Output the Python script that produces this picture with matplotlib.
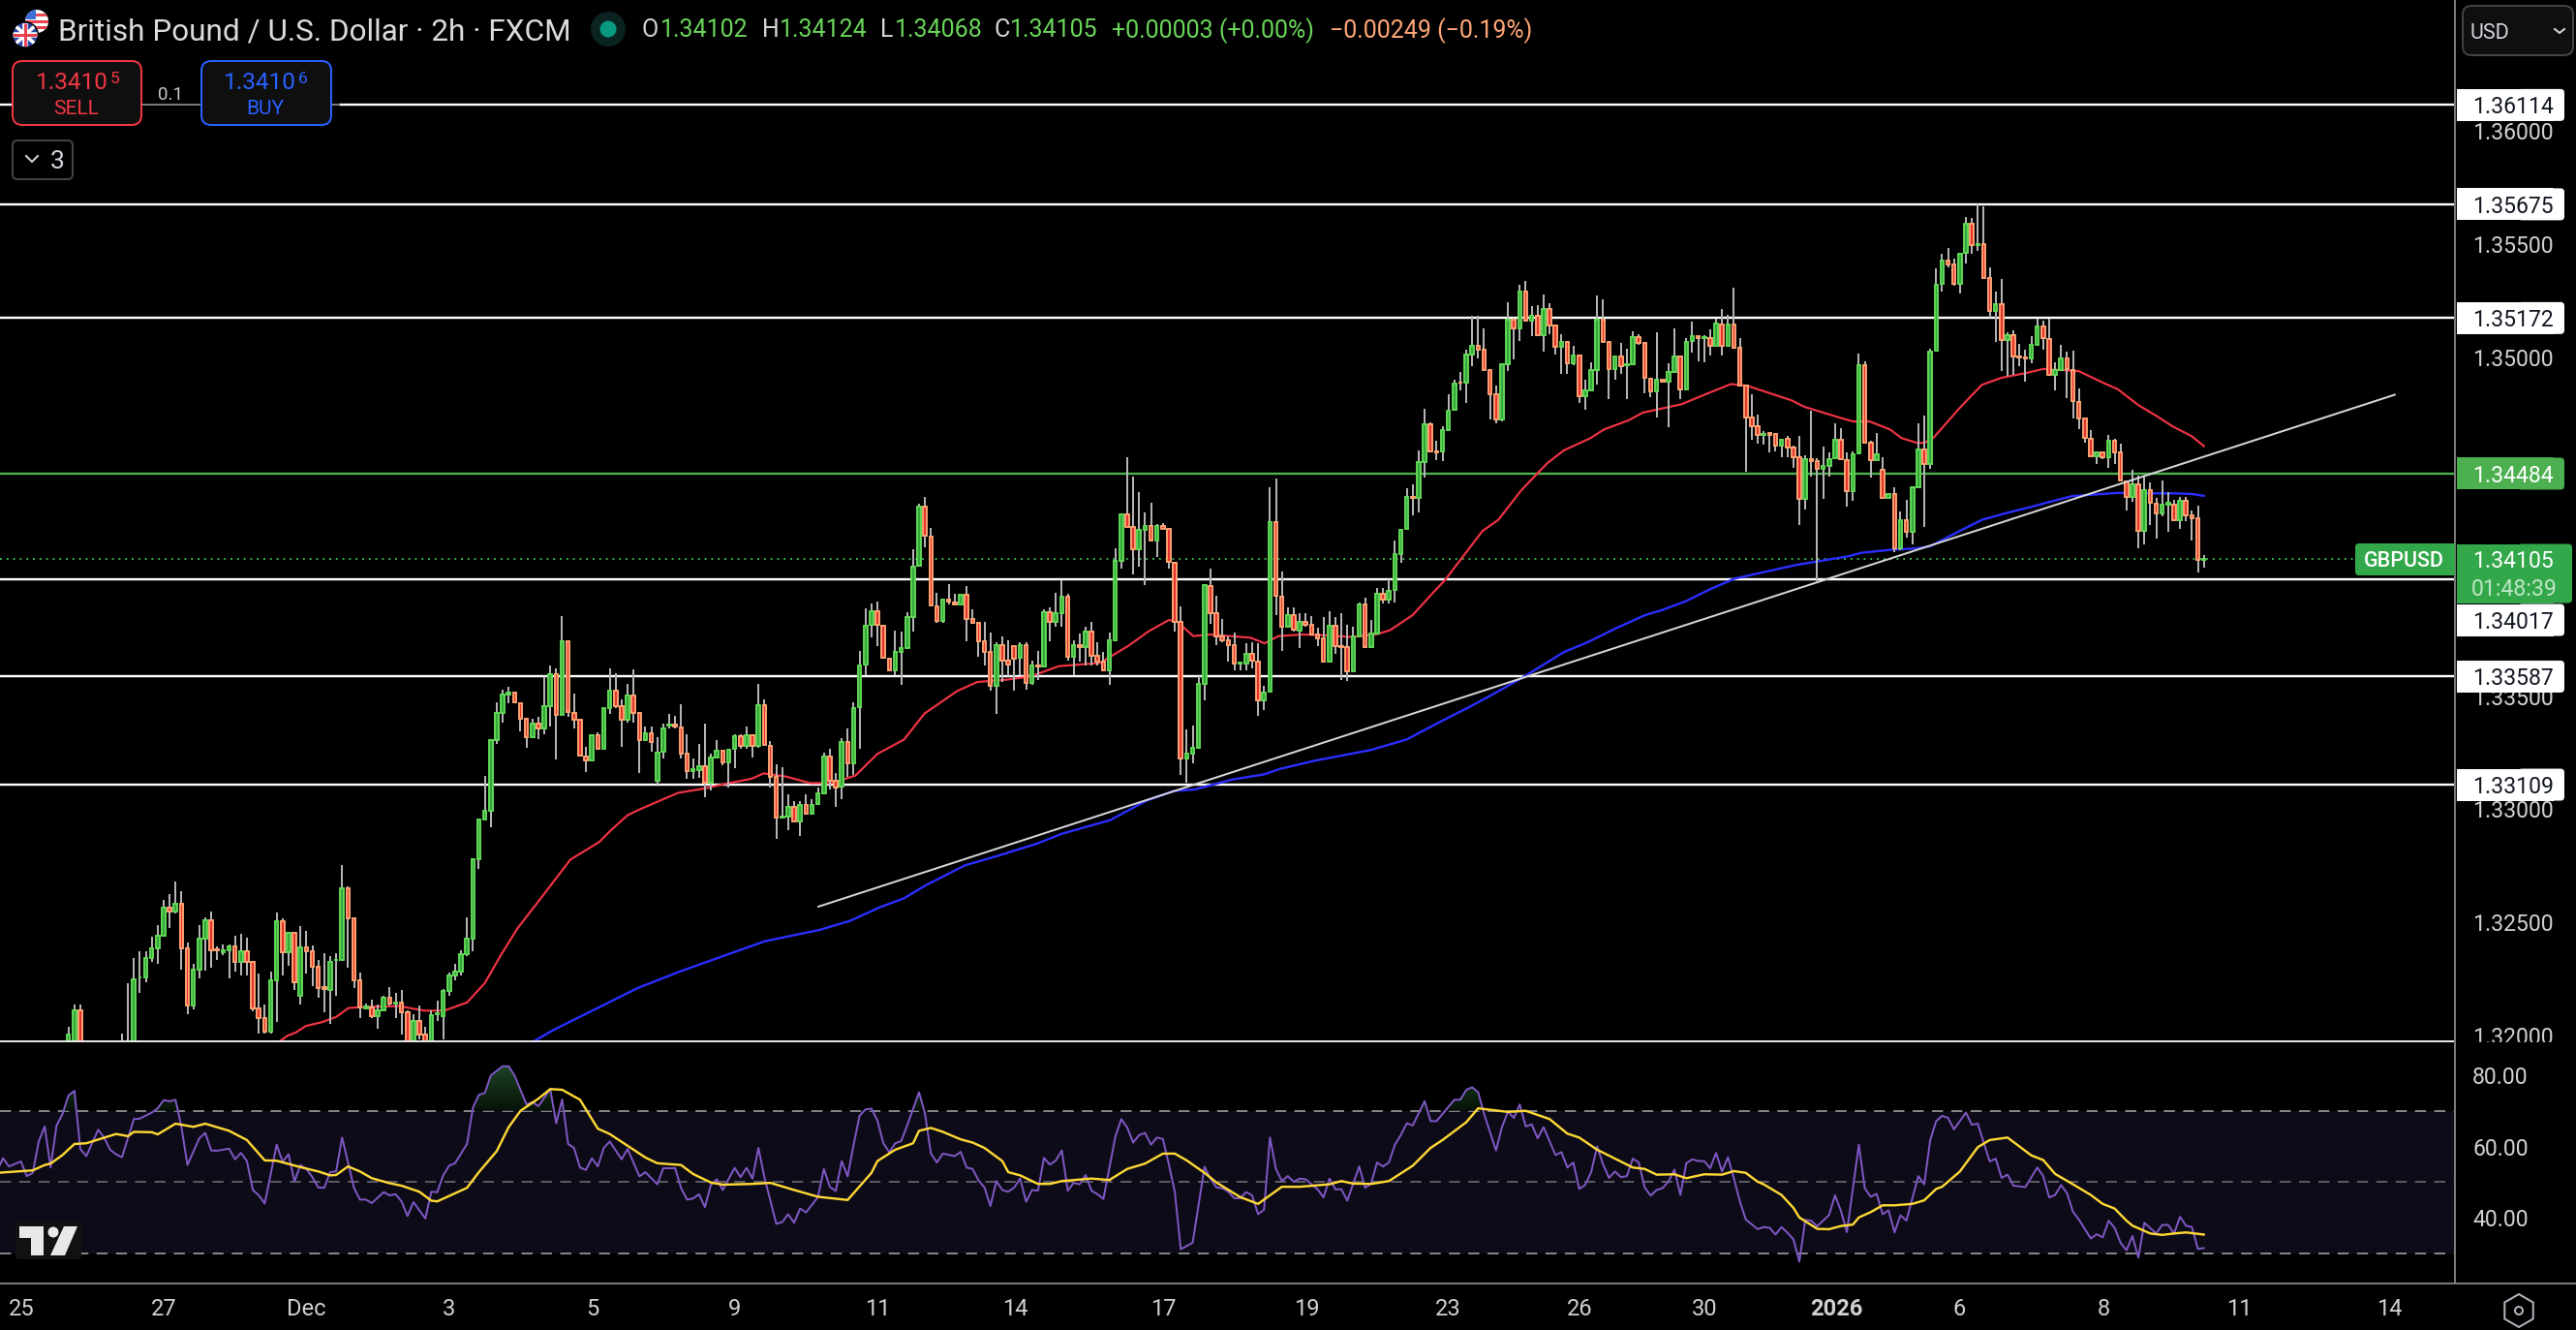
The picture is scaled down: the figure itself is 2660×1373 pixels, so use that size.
import numpy as np
import matplotlib
matplotlib.use("Agg")
import matplotlib.pyplot as plt
from matplotlib.patches import FancyBboxPatch, Circle, Polygon, Rectangle, RegularPolygon
from matplotlib.path import Path

plt.rcParams['font.family'] = ['Roboto', 'DejaVu Sans']

# ---------- data (2h candles, GBP/USD) ----------
opens = [1.31953,1.31950,1.32110,1.31950,1.31930,1.31945,1.31925,1.31940,1.31935,1.31950,1.31965,1.31960,
1.32256,1.32256,1.32342,1.32384,1.32439,1.32564,1.32550,1.32581,1.32384,1.32132,1.32293,1.32427,
1.32510,1.32381,1.32367,1.32379,1.32396,1.32324,1.32374,1.32327,1.32122,1.32076,1.32017,1.32246,
1.32507,1.32367,1.32453,1.32175,1.32389,1.32372,1.32303,1.32213,1.32200,1.32332,1.32334,1.32653,
1.32517,1.32242,1.32122,1.32125,1.32085,1.32113,1.32165,1.32142,1.32147,1.32103,1.31960,1.32063,
1.32003,1.31960,1.32093,1.32085,1.32196,1.32264,1.32282,1.32360,1.32427,1.32781,1.32957,1.32993,
1.33305,1.33424,1.33506,1.33514,1.33471,1.33399,1.33318,1.33377,1.33359,1.33454,1.33599,1.33418,
1.33742,1.33428,1.33395,1.33235,1.33215,1.33329,1.33267,1.33447,1.33526,1.33455,1.33395,1.33502,
1.33428,1.33306,1.33335,1.33128,1.33255,1.33369,1.33373,1.33363,1.33245,1.33171,1.33173,1.33192,
1.33116,1.33231,1.33259,1.33206,1.33266,1.33323,1.33281,1.33328,1.33281,1.33462,1.33281,1.33142,
1.32964,1.32969,1.33012,1.32948,1.33019,1.32981,1.33024,1.33069,1.33235,1.33128,1.33102,1.33299,
1.33202,1.33452,1.33640,1.33814,1.33877,1.33813,1.33666,1.33616,1.33695,1.33715,1.33852,1.34076,
1.34340,1.34206,1.33899,1.33833,1.33926,1.33916,1.33904,1.33947,1.33840,1.33823,1.33744,1.33695,
1.33545,1.33727,1.33656,1.33723,1.33669,1.33727,1.33559,1.33637,1.33630,1.33873,1.33830,1.33866,
1.33941,1.33673,1.33726,1.33716,1.33784,1.33677,1.33652,1.33616,1.33749,1.34100,1.34306,1.34248,
1.34151,1.34234,1.34254,1.34187,1.34251,1.34240,1.34091,1.33830,1.33223,1.33248,1.33270,1.33556,
1.33987,1.33866,1.33763,1.33749,1.33727,1.33643,1.33643,1.33687,1.33655,1.33480,1.33519,1.34271,
1.33942,1.33806,1.33860,1.33792,1.33830,1.33816,1.33773,1.33755,1.33652,1.33813,1.33723,1.33716,
1.33612,1.33766,1.33905,1.33716,1.33778,1.33955,1.33926,1.33969,1.34130,1.34240,1.34383,1.34376,
1.34537,1.34704,1.34583,1.34583,1.34676,1.34765,1.34888,1.34888,1.35012,1.35051,1.35030,1.34944,
1.34834,1.34725,1.34968,1.35165,1.35127,1.35287,1.35161,1.35182,1.35098,1.35214,1.35138,1.35044,
1.35068,1.34973,1.35008,1.34825,1.34851,1.34944,1.35165,1.35065,1.34945,1.35001,1.34965,1.34968,
1.35087,1.35061,1.34905,1.34848,1.34900,1.34891,1.34933,1.35004,1.34855,1.35071,1.35094,1.35082,
1.35082,1.35051,1.35144,1.35051,1.35144,1.35040,1.34874,1.34734,1.34694,1.34654,1.34663,1.34658,
1.34608,1.34637,1.34601,1.34556,1.34373,1.34548,1.34540,1.34506,1.34520,1.34551,1.34634,1.34544,
1.34406,1.34573,1.34965,1.34623,1.34543,1.34499,1.34376,1.34395,1.34156,1.34277,1.34226,1.34423,
1.34590,1.34526,1.35027,1.35322,1.35428,1.35408,1.35322,1.35459,1.35588,1.35494,1.35501,1.35351,
1.35203,1.35234,1.35074,1.35098,1.35004,1.34997,1.34993,1.35055,1.35137,1.35080,1.34920,1.34943,
1.34994,1.34944,1.34801,1.34726,1.34640,1.34559,1.34580,1.34556,1.34630,1.34577,1.34449,1.34380,
1.34437,1.34230,1.34409,1.34352,1.34309,1.34349,1.34349,1.34277,1.34362,1.34299,1.34285,1.34102]
highs = [1.32039,1.32136,1.32136,1.31965,1.31960,1.31970,1.31955,1.31965,1.31970,1.32010,1.32232,1.32342,
1.32374,1.32372,1.32436,1.32487,1.32599,1.32624,1.32680,1.32637,1.32413,1.32316,1.32489,1.32524,
1.32547,1.32396,1.32403,1.32403,1.32441,1.32450,1.32431,1.32330,1.32273,1.32136,1.32282,1.32544,
1.32517,1.32460,1.32460,1.32484,1.32464,1.32399,1.32332,1.32364,1.32350,1.32364,1.32753,1.32660,
1.32524,1.32279,1.32142,1.32157,1.32139,1.32175,1.32213,1.32189,1.32203,1.32110,1.32096,1.32132,
1.32039,1.32110,1.32153,1.32207,1.32279,1.32317,1.32377,1.32521,1.32785,1.32960,1.33148,1.33309,
1.33474,1.33531,1.33542,1.33517,1.33474,1.33402,1.33402,1.33409,1.33588,1.33635,1.33621,1.33855,
1.33745,1.33512,1.33395,1.33277,1.33334,1.33341,1.33449,1.33624,1.33602,1.33484,1.33555,1.33619,
1.33430,1.33366,1.33366,1.33320,1.33378,1.33420,1.33412,1.33463,1.33330,1.33223,1.33288,1.33378,
1.33245,1.33306,1.33263,1.33269,1.33330,1.33330,1.33366,1.33330,1.33556,1.33485,1.33302,1.33198,
1.33188,1.33066,1.33038,1.33038,1.33066,1.33045,1.33098,1.33252,1.33269,1.33159,1.33316,1.33359,
1.33472,1.33702,1.33890,1.33911,1.33919,1.33816,1.33669,1.33790,1.33787,1.33873,1.34151,1.34351,
1.34380,1.34244,1.33956,1.33930,1.33994,1.33951,1.33951,1.33987,1.33883,1.33830,1.33830,1.33780,
1.33737,1.33766,1.33747,1.33726,1.33737,1.33737,1.33659,1.33702,1.33883,1.33892,1.33959,1.34013,
1.33954,1.33749,1.33777,1.33809,1.33830,1.33737,1.33695,1.33780,1.34154,1.34309,1.34555,1.34473,
1.34401,1.34311,1.34354,1.34263,1.34265,1.34244,1.34094,1.33897,1.33355,1.33369,1.33587,1.33997,
1.34063,1.33944,1.33840,1.33766,1.33783,1.33652,1.33734,1.33737,1.33733,1.33545,1.34423,1.34463,
1.34052,1.33895,1.33895,1.33866,1.33866,1.33855,1.33802,1.33852,1.33876,1.33852,1.33866,1.33816,
1.33809,1.33916,1.33937,1.33838,1.33980,1.33980,1.34016,1.34187,1.34240,1.34419,1.34437,1.34587,
1.34773,1.34711,1.34630,1.34694,1.34834,1.34898,1.34934,1.35030,1.35182,1.35182,1.35125,1.34948,
1.34873,1.34973,1.35241,1.35172,1.35319,1.35337,1.35225,1.35229,1.35277,1.35237,1.35140,1.35101,
1.35072,1.35051,1.35011,1.34901,1.34977,1.35272,1.35254,1.35065,1.35001,1.35061,1.35037,1.35115,
1.35101,1.35065,1.34908,1.35108,1.34901,1.34973,1.35125,1.35008,1.35082,1.35155,1.35097,1.35097,
1.35122,1.35168,1.35211,1.35187,1.35305,1.35082,1.34877,1.34834,1.34744,1.34673,1.34668,1.34661,
1.34640,1.34651,1.34608,1.34651,1.34566,1.34763,1.34551,1.34604,1.34580,1.34706,1.34685,1.34580,
1.34583,1.35015,1.34982,1.34630,1.34663,1.34556,1.34398,1.34423,1.34316,1.34369,1.34430,1.34706,
1.34741,1.35037,1.35391,1.35457,1.35482,1.35434,1.35461,1.35619,1.35615,1.35675,1.35665,1.35397,
1.35290,1.35344,1.35108,1.35118,1.35058,1.35033,1.35094,1.35168,1.35161,1.35168,1.34977,1.35054,
1.35023,1.35027,1.34861,1.34730,1.34676,1.34583,1.34583,1.34654,1.34637,1.34616,1.34452,1.34502,
1.34476,1.34469,1.34444,1.34377,1.34454,1.34402,1.34369,1.34380,1.34380,1.34320,1.34342,1.34124]
lows = [1.31939,1.31940,1.31930,1.31920,1.31910,1.31920,1.31900,1.31915,1.31920,1.31930,1.31950,1.31950,
1.32189,1.32236,1.32324,1.32317,1.32436,1.32474,1.32539,1.32292,1.32096,1.32117,1.32253,1.32289,
1.32299,1.32336,1.32356,1.32253,1.32284,1.32264,1.32267,1.32106,1.32010,1.32010,1.32010,1.32060,
1.32267,1.32310,1.32203,1.32135,1.32274,1.32217,1.32167,1.32103,1.32053,1.32175,1.32330,1.32299,
1.32210,1.32079,1.32117,1.32079,1.32032,1.32107,1.32132,1.32075,1.32003,1.31940,1.31940,1.31985,
1.31950,1.31950,1.32065,1.31985,1.32175,1.32242,1.32267,1.32353,1.32374,1.32738,1.32953,1.32921,
1.33288,1.33385,1.33469,1.33469,1.33345,1.33274,1.33314,1.33312,1.33334,1.33367,1.33220,1.33418,
1.33409,1.33359,1.33238,1.33167,1.33215,1.33267,1.33267,1.33421,1.33449,1.33278,1.33385,1.33384,
1.33159,1.33302,1.33255,1.33109,1.33226,1.33359,1.33359,1.33223,1.33135,1.33135,1.33138,1.33055,
1.33085,1.33223,1.33195,1.33095,1.33183,1.33266,1.33266,1.33231,1.33273,1.33281,1.33098,1.32871,
1.32959,1.32909,1.32945,1.32884,1.32978,1.32978,1.33024,1.33066,1.33088,1.33012,1.33045,1.33145,
1.33152,1.33266,1.33595,1.33759,1.33723,1.33666,1.33612,1.33592,1.33549,1.33709,1.33787,1.34073,
1.34158,1.33901,1.33823,1.33826,1.33906,1.33901,1.33901,1.33744,1.33820,1.33676,1.33635,1.33523,
1.33423,1.33563,1.33587,1.33523,1.33595,1.33530,1.33549,1.33573,1.33626,1.33744,1.33809,1.33809,
1.33656,1.33595,1.33652,1.33637,1.33637,1.33637,1.33609,1.33552,1.33744,1.34066,1.34248,1.34040,
1.34073,1.33991,1.34187,1.34116,1.34238,1.34066,1.33787,1.33152,1.33116,1.33202,1.33266,1.33483,
1.33820,1.33726,1.33737,1.33652,1.33616,1.33616,1.33616,1.33623,1.33412,1.33438,1.33516,1.33859,
1.33702,1.33802,1.33788,1.33712,1.33809,1.33771,1.33720,1.33652,1.33649,1.33688,1.33573,1.33569,
1.33612,1.33766,1.33712,1.33712,1.33773,1.33909,1.33912,1.33916,1.34092,1.34240,1.34301,1.34314,
1.34466,1.34580,1.34544,1.34540,1.34676,1.34764,1.34851,1.34797,1.34958,1.34994,1.34944,1.34723,
1.34708,1.34715,1.34937,1.34991,1.35070,1.35158,1.35094,1.35094,1.35025,1.35101,1.35011,1.34923,
1.34925,1.34965,1.34797,1.34768,1.34851,1.34880,1.35065,1.34815,1.34901,1.34923,1.34815,1.34965,
1.35055,1.34840,1.34823,1.34734,1.34889,1.34691,1.34930,1.34815,1.34854,1.35020,1.34980,1.34977,
1.35008,1.35051,1.35008,1.35047,1.35040,1.34868,1.34494,1.34633,1.34616,1.34613,1.34577,1.34583,
1.34558,1.34558,1.34511,1.34259,1.34326,1.34473,1.34009,1.34373,1.34469,1.34548,1.34547,1.34340,
1.34363,1.34568,1.34616,1.34466,1.34543,1.34373,1.34373,1.34138,1.34145,1.34202,1.34173,1.34423,
1.34249,1.34506,1.35027,1.35290,1.35397,1.35315,1.35282,1.35414,1.35458,1.35470,1.35351,1.35173,
1.35065,1.34940,1.34916,1.34920,1.34958,1.34890,1.34973,1.35055,1.35030,1.34916,1.34851,1.34940,
1.34820,1.34727,1.34683,1.34623,1.34559,1.34526,1.34549,1.34509,1.34526,1.34452,1.34323,1.34359,
1.34156,1.34173,1.34259,1.34195,1.34297,1.34226,1.34273,1.34240,1.34272,1.34187,1.34049,1.34068]
closes = [1.32003,1.32110,1.31950,1.31930,1.31945,1.31925,1.31940,1.31935,1.31950,1.31965,1.31960,1.32250,
1.32259,1.32342,1.32384,1.32439,1.32564,1.32550,1.32581,1.32384,1.32132,1.32293,1.32427,1.32510,
1.32379,1.32376,1.32379,1.32396,1.32324,1.32374,1.32327,1.32122,1.32076,1.32017,1.32246,1.32507,
1.32367,1.32453,1.32234,1.32389,1.32372,1.32303,1.32210,1.32207,1.32324,1.32336,1.32653,1.32517,
1.32242,1.32125,1.32127,1.32085,1.32113,1.32165,1.32142,1.32147,1.32103,1.31960,1.32063,1.32003,
1.31960,1.32092,1.32099,1.32196,1.32264,1.32282,1.32360,1.32427,1.32781,1.32957,1.32993,1.33305,
1.33424,1.33506,1.33515,1.33474,1.33399,1.33318,1.33377,1.33359,1.33454,1.33599,1.33418,1.33742,
1.33431,1.33395,1.33238,1.33215,1.33329,1.33267,1.33447,1.33526,1.33455,1.33395,1.33502,1.33427,
1.33306,1.33335,1.33298,1.33252,1.33359,1.33373,1.33366,1.33245,1.33169,1.33176,1.33192,1.33116,
1.33231,1.33259,1.33206,1.33263,1.33323,1.33281,1.33328,1.33281,1.33462,1.33285,1.33145,1.32962,
1.32969,1.33012,1.32948,1.33019,1.32981,1.33021,1.33069,1.33235,1.33128,1.33098,1.33299,1.33202,
1.33449,1.33637,1.33813,1.33877,1.33814,1.33669,1.33616,1.33695,1.33715,1.33852,1.34073,1.34340,
1.34208,1.33901,1.33833,1.33926,1.33919,1.33904,1.33947,1.33840,1.33824,1.33744,1.33695,1.33545,
1.33727,1.33656,1.33640,1.33666,1.33727,1.33559,1.33635,1.33632,1.33873,1.33830,1.33866,1.33941,
1.33673,1.33726,1.33716,1.33784,1.33677,1.33652,1.33616,1.33749,1.34097,1.34306,1.34248,1.34151,
1.34234,1.34254,1.34187,1.34251,1.34240,1.34094,1.33830,1.33223,1.33248,1.33270,1.33556,1.33991,
1.33866,1.33766,1.33749,1.33727,1.33645,1.33647,1.33687,1.33656,1.33480,1.33516,1.34271,1.33944,
1.33806,1.33860,1.33795,1.33830,1.33816,1.33773,1.33756,1.33652,1.33813,1.33723,1.33718,1.33612,
1.33766,1.33905,1.33716,1.33778,1.33955,1.33926,1.33966,1.34130,1.34237,1.34383,1.34376,1.34537,
1.34704,1.34583,1.34580,1.34676,1.34764,1.34884,1.34885,1.35012,1.35051,1.35030,1.34944,1.34834,
1.34725,1.34968,1.35165,1.35127,1.35287,1.35161,1.35182,1.35098,1.35214,1.35138,1.35044,1.35068,
1.34973,1.35008,1.34825,1.34851,1.34944,1.35165,1.35068,1.34945,1.35001,1.34958,1.34968,1.35087,
1.35061,1.34908,1.34848,1.34901,1.34890,1.34933,1.35004,1.34855,1.35068,1.35094,1.35082,1.35087,
1.35051,1.35147,1.35051,1.35144,1.35040,1.34874,1.34734,1.34694,1.34654,1.34661,1.34657,1.34608,
1.34634,1.34601,1.34557,1.34373,1.34548,1.34541,1.34504,1.34520,1.34548,1.34634,1.34548,1.34406,
1.34571,1.34965,1.34623,1.34544,1.34571,1.34376,1.34395,1.34156,1.34277,1.34227,1.34423,1.34590,
1.34526,1.35025,1.35321,1.35428,1.35408,1.35322,1.35458,1.35588,1.35494,1.35501,1.35351,1.35203,
1.35234,1.35074,1.35098,1.35001,1.35000,1.34993,1.35055,1.35137,1.35083,1.34920,1.34943,1.34994,
1.34947,1.34806,1.34727,1.34641,1.34562,1.34580,1.34556,1.34630,1.34577,1.34454,1.34380,1.34437,
1.34230,1.34409,1.34355,1.34309,1.34349,1.34355,1.34277,1.34362,1.34299,1.34287,1.34102,1.34105]

# moving averages (bar number, price)
ma_red_bars = [35.6,36.8,38.2,39.9,42.6,45,47.1,50.5,55.6,59.8,63.2,67,70,72.8,75.5,79.3,84.4,89.2,91.3,94,95.9,
99.4,102.5,106.9,111,114.8,116.9,120.6,124.7,128.2,132.3,136,140.5,143.9,149.4,152.8,157.6,161.7,166.5,173.4,178.2,181.6,185,186.4,189.1,191.9,198.7,201.1,203.4,
207.5,211.6,215.7,219.8,222.2,226,228.8,231.5,234.2,237.7,240.4,244.2,248.6,251.4,255.8,258.2,262.3,264.7,271.2,275.4,279.5,282.2,289.7,291.8,298,300,302.8,306.2,308.2,310.8,
312,313.6,317.9,321.7,325,329.3,332,338,342.3,344.5,348,351,353.7,357,359]
ma_red = [1.31976,1.31999,1.32013,1.32042,1.32059,1.32082,1.32122,1.32127,1.32130,1.32110,1.32110,1.32146,1.32232,1.32360,1.32474,1.32603,1.32778,1.32855,1.32910,1.32974,1.32998,
1.33038,1.33073,1.33092,1.33116,1.33135,1.33159,1.33145,1.33116,1.33116,1.33149,1.33245,1.33309,1.33423,1.33523,1.33563,1.33573,1.33587,1.33633,1.33647,1.33723,1.33787,1.33837,1.33830,1.33766,1.33773,1.33759,1.33734,1.33766,
1.33773,1.33769,1.33762,1.33773,1.33792,1.33859,1.33940,1.34016,1.34109,1.34230,1.34280,1.34409,1.34530,1.34587,1.34640,1.34680,1.34720,1.34754,1.34791,1.34837,1.34880,1.34873,1.34808,1.34780,1.34730,1.34715,1.34715,1.34680,1.34641,1.34620,
1.34620,1.34644,1.34773,1.34877,1.34908,1.34930,1.34947,1.34937,1.34883,1.34858,1.34787,1.34740,1.34694,1.34649,1.34606]
ma_blue_bars = [78.4,81.5,88.6,95.7,102.9,111,117.1,126.3,131.4,136.4,140.5,144.1,150.7,156.8,162.9,167,175.1,181.2,185.8,189.4,195.5,201.1,203.6,209.7,218.9,225,230.1,236,
239.7,244.5,251.4,255.5,260.3,265.1,267.8,271.9,276,280.1,285.6,290.4,299.3,301.4,306.2,310.8,
313,317.9,321.7,326.1,330.4,332.6,336.9,340.7,344.5,348.9,354.3,357,359]
ma_blue = [1.31977,1.32024,1.32117,1.32210,1.32284,1.32360,1.32417,1.32467,1.32507,1.32567,1.32607,1.32664,1.32752,1.32799,1.32849,1.32892,1.32952,1.33038,1.33081,1.33088,1.33131,1.33155,1.33178,1.33216,1.33262,1.33309,1.33380,1.33459,
1.33512,1.33583,1.33695,1.33740,1.33802,1.33859,1.33880,1.33920,1.33973,1.34020,1.34052,1.34080,1.34119,1.34134,1.34147,1.34154,
1.34163,1.34230,1.34280,1.34312,1.34340,1.34356,1.34385,1.34392,1.34399,1.34397,1.34397,1.34394,1.34386]

trend_bars = [126.1, 391.1]
trend_prices = [1.32570, 1.34833]
levels_white = [1.36114, 1.35675, 1.35172, 1.34017, 1.33587, 1.33109]
level_green = 1.34484
last_price = 1.34105
price_ticks = [1.36, 1.355, 1.35, 1.345, 1.34, 1.335, 1.33, 1.325, 1.32]

# RSI (bar number, value)
rsi_bars = [-12,-11,-10,-8,-7,-6,-5,-4,-3,-2,-1,0,1,2,3,5,6,7,8,9,11,12,14,15,16,17,18,19,20,22,23,24,25,27,28,29,30,31,32,33,35,36,37,38,39,40,41,42,43,44,45,46,47,48,49,50,51,53,54,55,56,57,58,60,61,62,63,64,65,67,68,69,70,71,73,74,75,77,78,79,81,82,83,84,85,86,87,88,89,90,91,93,94,96,97,99,100,102,103,104,105,106,107,108,109,110,112,113,114,115,116,117,119,120,121,122,123,124,126,127,128,129,130,131,132,133,134,
135,136,137,138,139,140,141,143,144,145,146,147,149,150,151,152,153,154,155,156,157,158,159,160,161,162,163,164,165,166,167,168,169,170,171,172,173,174,176,177,178,179,180,181,182,183,184,185,186,187,189,191,192,193,194,195,196,197,198,199,200,201,202,203,204,205,206,207,208,209,210,211,212,213,214,215,217,218,219,220,221,222,223,224,225,226,228,229,230,233,234,235,236,237,238,240,241,242,243,244,245,246,247,248,250,251,252,253,254,255,256,257,258,259,260,261,262,263,264,265,266,267,268,269,270,271,272,273,274,275,
276,277,278,279,280,281,282,284,285,286,287,288,289,290,291,292,293,294,296,297,298,299,301,302,303,304,305,306,307,308,309,311,312,313,314,315,316,317,319,320,321,323,324,325,326,327,329,331,332,333,334,335,336,337,338,340,341,342,343,344,345,346,347,348,349,351,352,353,354,355,356,357,358,359]
rsi_vals = [53.2,56.7,54.4,55.8,51.7,52.6,61.4,65.6,54.1,65.9,69.1,74.3,75.6,59.3,57.3,64.7,62.5,59.1,57.8,57.0,67.7,67.8,69.5,70.7,73.0,72.7,73.1,65.4,54.8,62.3,63.8,58.9,58.8,59.4,56.4,58.2,55.9,47.8,46.3,44.0,60.5,55.7,57.8,50.2,54.8,53.7,51.4,48.5,48.4,52.8,53.0,62.5,55.5,48.4,45.1,45.1,44.1,47.2,46.3,46.6,44.6,40.5,44.4,39.8,47.3,47.2,51.9,54.6,55.3,60.7,70.9,74.5,75.0,79.9,82.5,82.5,79.9,71.8,72.5,71.3,76.1,66.5,73.2,60.7,59.6,54.1,53.4,56.7,54.4,59.6,61.4,56.4,59.3,51.6,52.8,49.4,53.9,53.9,48.3,45.1,45.4,46.6,43.0,49.2,50.8,47.8,54.0,51.4,54.0,51.0,59.6,51.4,38.3,38.8,41.0,38.6,42.6,41.5,45.8,53.7,48.7,47.5,55.9,51.6,60.5,68.6,70.4,
70.6,67.3,60.9,58.4,60.9,61.5,65.9,75.2,69.2,58.0,55.5,58.0,57.3,58.5,54.1,53.7,50.5,48.5,43.3,50.3,47.8,47.3,48.5,51.0,44.5,47.8,47.6,56.8,54.9,56.1,58.9,47.6,49.8,49.4,52.0,47.6,46.6,45.3,62.7,67.7,65.3,61.1,63.2,63.8,60.5,62.5,62.1,55.0,47.3,31.2,33.0,54.3,51.0,48.5,48.3,47.3,45.5,45.5,47.2,46.3,41.0,42.3,62.5,53.7,50.3,51.7,50.1,51.0,50.8,49.4,48.0,45.7,51.0,48.0,48.0,44.8,54.4,48.4,49.6,55.5,54.4,55.5,60.5,63.2,66.5,65.9,72.7,67.1,67.1,73.1,73.1,75.9,76.6,75.2,69.1,58.9,65.4,69.8,68.0,71.8,65.6,66.2,62.3,65.4,57.6,58.4,54.1,55.5,48.1,49.2,52.8,60.0,55.0,51.2,53.0,51.4,51.7,56.6,55.5,48.5,46.2,47.8,48.3,50.2,53.5,46.4,55.3,56.4,55.9,55.9,
53.9,58.2,53.0,57.0,51.0,44.6,39.5,36.8,37.4,37.2,35.3,37.4,35.8,34.0,27.7,39.4,39.2,37.6,40.8,46.3,41.9,36.0,60.5,48.3,45.9,46.7,41.0,42.1,35.9,40.7,39.2,51.7,49.4,61.8,67.1,68.6,68.0,64.8,69.5,66.1,66.4,55.8,56.6,51.2,52.1,49.0,48.6,54.1,51.7,45.7,46.4,49.2,46.9,41.7,39.5,34.2,35.4,34.5,39.2,37.2,33.0,30.9,34.9,28.8,38.6,35.6,38.0,38.0,35.6,40.3,37.8,37.4,31.3,31.5]
rsi_ma_bars = [-12,-6,-4,-3,-1,1,3,8,10,11,14,15,18,21,23,27,30,33,35,39,42,44,45,47,49,51,54,56,59,61,62,67,69,72,74,76,79,81,83,86,89,91,94,97,99,103,105,108,110,115,118,122,126,131,
135,136,139,142,143,145,147,150,152,154,157,158,160,163,165,167,172,175,178,181,184,186,188,191,193,197,200,201,204,207,212,214,216,219,222,226,229,231,235,237,242,245,249,252,254,257,263,265,267,270,272,275,
278,280,282,284,285,288,290,291,294,296,298,300,301,303,305,307,310,312,314,315,318,321,323,326,330,332,334,337,340,342,344,346,347,350,352,354,356,359]
rsi_ma_vals = [52.6,53.3,54.8,55.2,57.6,60.7,60.9,63.5,62.9,64.1,64.0,63.4,66.4,65.5,66.4,64.4,61.8,56.1,56.0,54.2,53.0,51.9,52.0,54.4,53.0,51.1,49.7,49.0,47.3,44.8,44.6,48.4,52.8,58.7,65.4,70.0,73.4,76.1,75.9,73.1,65.0,63.5,60.2,56.9,55.3,54.8,52.3,49.9,49.3,49.5,49.8,47.8,45.9,45.0,
52.6,55.9,59.1,60.9,64.4,65.2,64.1,62.0,61.1,59.6,55.9,52.8,51.9,49.5,49.5,50.3,51.0,50.6,53.7,55.2,58.0,58.0,56.1,52.6,49.9,45.8,43.9,45.1,48.7,48.7,49.4,50.3,49.6,49.5,50.3,54.6,59.6,61.8,66.8,70.7,69.7,70.0,67.7,63.6,62.5,59.1,54.1,53.7,52.1,52.2,51.1,52.2,
52.1,53.1,52.6,50.1,49.4,46.4,42.8,40.1,36.9,36.8,37.7,38.1,40.1,41.6,43.5,43.5,43.9,44.9,48.1,48.7,53.0,59.8,61.8,62.5,57.5,56.2,52.3,49.4,46.4,43.9,42.6,39.2,37.8,35.6,35.2,35.6,35.9,35.3]
rsi_guides = [70, 50, 30]
rsi_ticks = [80, 60, 40]

date_bars = [-7.9,16,40,64,88.1,112,136,159.1,184,208.1,232,254,275,297.2,317.9,342.1,365,390.2]
date_labels = ['25','27','Dec','3','5','9','11','14','17','19','23','26','30','2026','6','8','11','14']

# ---------- layout ----------
W, H = 2660, 1373
PX = 0.72            # one pixel in points at dpi 100
BAR0, BARW = 70.7, 6.142
XL = (-BAR0 / BARW, (2535 - BAR0) / BARW)

fig = plt.figure(figsize=(W / 100, H / 100), dpi=100, facecolor='black')


def axpx(l, t, r, b, **kw):
    return fig.add_axes([l / W, 1 - b / H, (r - l) / W, (b - t) / H], **kw)


ax = axpx(0, 0, 2535, 1074.5, facecolor='black')
rs = axpx(0, 1076, 2535, 1325, facecolor='black')
ui = axpx(0, 0, W, H, facecolor='none', zorder=10)
ui.set_xlim(0, W); ui.set_ylim(H, 0); ui.axis('off')

TICK = '#d1d1d1'
ax.set_xlim(*XL)
ax.set_ylim(1.32 + (1069 - 1074.5) / 23350, 1.32 + 1069 / 23350)
rs.set_xlim(*XL)
rs.set_ylim(30 - 31 / 3.68, 70 + 70.7 / 3.68)
for a in (ax, rs):
    for s in a.spines.values():
        s.set_visible(False)

# ---------- main pane ----------
x = np.arange(len(closes))
o, h, l, c = map(np.array, (opens, highs, lows, closes))
up = c >= o
for lv in levels_white:
    ax.axhline(lv, color='white', lw=2.4 * PX, zorder=1)
ax.axhline(level_green, color='#4caf50', lw=2.4 * PX, zorder=1)
ax.axhline(last_price, color='#35a94b', lw=2 * PX, ls=(0, (1, 2.4)), zorder=1)
ax.plot(ma_red_bars, ma_red, color='#ee3344', lw=2.2 * PX, zorder=2)
ax.plot(ma_blue_bars, ma_blue, color='#2a2eff', lw=2.4 * PX, zorder=2)
ax.vlines(x, l, h, color='#b4b4b4', lw=2 * PX, zorder=3)
ax.bar(x[up], np.abs(c - o)[up], bottom=np.minimum(c, o)[up], width=0.58, facecolor='#35a63c',
       edgecolor='#62d957', linewidth=1.9 * PX, zorder=4)
ax.bar(x[~up], np.abs(c - o)[~up], bottom=np.minimum(c, o)[~up], width=0.58, facecolor='#e5322d',
       edgecolor='#ffa574', linewidth=1.9 * PX, zorder=4)
ax.plot(trend_bars, trend_prices, color='#d6d6d6', lw=2 * PX, zorder=5)

ax.set_xticks([])
ax.yaxis.tick_right()
ax.set_yticks(price_ticks)
ax.set_yticklabels([f'{v:.5f}' for v in price_ticks], color=TICK, fontsize=16.6)
ax.tick_params(axis='y', length=0, pad=13)

# ---------- RSI pane ----------
rs.axhspan(30, 70, color='#0e0b18', lw=0, zorder=0)
for g, col in zip(rsi_guides, ['#8a8a92', '#5f5f68', '#8a8a92']):
    rs.axhline(g, color=col, lw=1.9 * PX, dashes=(6, 4.5), zorder=1)
rx = np.array(rsi_bars, float)
rv = np.array(rsi_vals)
poly = rs.fill_between(rx, rv, 70, where=rv > 70, interpolate=True, color='none', lw=0)
paths = poly.get_paths()
grad = np.linspace(0, 1, 64)[:, None, None] * (np.array([30, 74, 38]) - np.array([6, 18, 8])) + np.array([6, 18, 8])
im = rs.imshow(grad.astype(np.uint8), extent=(XL[0], XL[1], 70, 84), origin='lower', aspect='auto', zorder=1)
im.set_clip_path(Path.make_compound_path(*paths), transform=rs.transData)
rs.set_xlim(*XL)
rs.set_ylim(30 - 31 / 3.68, 70 + 70.7 / 3.68)
rs.plot(rx, rv, color='#7e57c2', lw=2 * PX, zorder=3)
rs.plot(rsi_ma_bars, rsi_ma_vals, color='#fdd835', lw=2.4 * PX, zorder=4)
rs.yaxis.tick_right()
rs.set_yticks(rsi_ticks)
rs.set_yticklabels([f'{v:.2f}' for v in rsi_ticks], color=TICK, fontsize=16.6)
rs.tick_params(axis='y', length=0, pad=13)
rs.set_xticks(date_bars)
rs.set_xticklabels(date_labels, color=TICK, fontsize=17)
rs.tick_params(axis='x', length=0, pad=11)
for t, lab in zip(rs.get_xticklabels(), date_labels):
    if lab == '2026':
        t.set_fontweight('bold')

# ---------- frame ----------
ui.add_patch(Rectangle((2537, 1075.5), 123, 20, color='black', zorder=1))
ui.plot([0, 2535], [1075, 1075], color='#e4e4e4', lw=2 * PX, zorder=2)
ui.plot([0, W], [1325, 1325], color='#7b7b7b', lw=2 * PX, zorder=2)
ui.plot([2535, 2535], [0, 1325], color='#7b7b7b', lw=2 * PX, zorder=2)


def py(price):
    return H - ax.transData.transform((0, price))[1]


def box(x0, y0, x1, y1, fc, ec='none', r=6, lw=2, z=3):
    ui.add_patch(FancyBboxPatch((x0 + r, y0 + r), x1 - x0 - 2 * r, y1 - y0 - 2 * r,
                                boxstyle=f'round,pad={r},rounding_size={r}', fc=fc, ec=ec, lw=lw * PX, zorder=z))


def txt(x0, y0, s, col, size=16.6, ha='left', weight='normal', z=5):
    return ui.text(x0, y0, s, color=col, fontsize=size, ha=ha, va='center_baseline', fontweight=weight, zorder=z)


# price tags (the 1.34017 tag sits just under the last-price tag, as on the reference)
for lv in levels_white:
    y0 = 640.0 if lv == 1.34017 else py(lv)
    ui.add_patch(Rectangle((2536.5, y0 - 16.5), 100, 33, fc='white', ec='none', zorder=3))
    box(2600, y0 - 16.5, 2648, y0 + 16.5, 'white', r=4)
    txt(2553, y0, f'{lv:.5f}', '#131722')
y0 = py(level_green)
ui.add_patch(Rectangle((2536.5, y0 - 16.5), 100, 33, fc='#4caf50', ec='none', zorder=3))
box(2600, y0 - 16.5, 2648, y0 + 16.5, '#4caf50', r=4)
txt(2553, y0, f'{level_green:.5f}', 'white')

y0 = py(last_price)
ui.add_patch(Rectangle((2536.5, 561.5), 100, 61, fc='#33a84a', ec='none', zorder=4))
box(2600, 561.5, 2656, 622.5, '#33a84a', r=4, z=4)
txt(2553, y0, f'{last_price:.5f}', 'white')
txt(2552, 606, '01:48:39', '#bfe5c6')
box(2432, y0 - 16.5, 2470, y0 + 16.5, '#33a84a', r=4)
ui.add_patch(Rectangle((2445, y0 - 16.5), 90, 33, fc='#33a84a', ec='none', zorder=3))
txt(2441, y0, 'GBPUSD', 'white', size=15.5, weight='medium')

# currency box
box(2543, 6, 2657, 57, '#0f0f0f', '#434343', r=9)
txt(2551, 32, 'USD', '#d1d4dc', size=15.5)
ui.plot([2638, 2643, 2648], [30, 34, 30], color='#d1d4dc', lw=2 * PX, zorder=5)

# settings icon
ui.add_patch(RegularPolygon((2601, 1353), 6, radius=17, orientation=0, fc='none', ec='#b2b5be', lw=2 * PX, zorder=5))
ui.add_patch(Circle((2601, 1353), 4, fc='none', ec='#b2b5be', lw=2 * PX, zorder=5))

# header
txt(60, 30, 'British Pound / U.S. Dollar · 2h · FXCM', '#dbdbdb', size=22.7)
ui.add_patch(Circle((628, 30), 18, fc='#0a2320', ec='none', zorder=3))
ui.add_patch(Circle((628, 30), 8.5, fc='#089981', ec='none', zorder=4))
GREEN_TXT, ORANGE_TXT, LET = '#6ad55a', '#ffa776', '#d4d4d4'
for xp, s, col in [(663, 'O', LET), (682, '1.34102', GREEN_TXT), (787, 'H', LET), (805, '1.34124', GREEN_TXT),
                   (909, 'L', LET), (924, '1.34068', GREEN_TXT), (1027, 'C', LET), (1043, '1.34105', GREEN_TXT),
                   (1148, '+0.00003 (+0.00%)', GREEN_TXT), (1373, '−0.00249 (−0.19%)', ORANGE_TXT)]:
    txt(xp, 29, s, col, size=18)

# flags
us = Circle((38, 22), 12, fc='white', ec='none', zorder=3)
ui.add_patch(us)
for k in range(3):
    st = ui.add_patch(Rectangle((26, 14 + k * 6.5), 24, 3.2, fc='#e8434f', ec='none', zorder=3.1))
    st.set_clip_path(us)
cn = ui.add_patch(Rectangle((26, 10), 11, 10, fc='#3a6fd8', ec='none', zorder=3.2))
cn.set_clip_path(us)
ui.add_patch(Circle((26, 36), 14, fc='black', ec='none', zorder=3.5))
uk = Circle((26, 36), 12.5, fc='#2b4aa8', ec='none', zorder=3.6)
ui.add_patch(uk)
for a0, a1, b0, b1, col, w_ in [(13, 39, 24, 48, 'white', 3.6), (13, 39, 48, 24, 'white', 3.6),
                                 (13, 39, 36, 36, 'white', 5.5), (26, 26, 24, 48, 'white', 5.5),
                                 (13, 39, 36, 36, '#e8434f', 3), (26, 26, 24, 48, '#e8434f', 3)]:
    ln, = ui.plot([a0, a1], [b0, b1], color=col, lw=w_ * PX, zorder=3.7, solid_capstyle='butt')
    ln.set_clip_path(uk)

# trade buttons
ui.add_patch(Rectangle((146, 100), 62, 14, fc='black', ec='none', zorder=2.2))
ui.plot([146, 208], [108, 108], color='#787878', lw=2 * PX, zorder=2.5)
ui.add_patch(Rectangle((342, 104), 8, 8, fc='black', ec='none', zorder=2.2))
ui.plot([342, 350], [108, 108], color='#787878', lw=2 * PX, zorder=2.5)
box(13, 63, 146, 129, '#0f0f0f', '#f23645', r=10)
box(208, 63, 342, 129, '#0f0f0f', '#2962ff', r=10)
txt(74, 83, '1.3410', '#f23645', size=17.5, ha='center')
txt(119, 80, '5', '#f23645', size=12.5, ha='center')
txt(79, 110, 'SELL', '#f23645', size=15, ha='center')
txt(268, 83, '1.3410', '#2962ff', size=17.5, ha='center')
txt(313, 80, '6', '#2962ff', size=12.5, ha='center')
txt(274, 110, 'BUY', '#2962ff', size=15, ha='center')
txt(176, 96, '0.1', '#c8c8c8', size=13.5, ha='center')

box(13, 145, 75, 185, 'black', '#434343', r=5)
ui.plot([27, 33, 39], [161, 167, 161], color='#d1d4dc', lw=2 * PX, zorder=5)
txt(52, 164, '3', '#d1d4dc', size=19)

# logo
box(16, 1262, 84, 1300, '#111111', r=4, z=3)
ui.add_patch(Polygon([(20, 1266), (45, 1266), (45, 1296), (32, 1296), (32, 1278), (20, 1278)], fc='#e8e8e8', ec='none', zorder=4))
ui.add_patch(Circle((55, 1272), 5.5, fc='#e8e8e8', ec='none', zorder=4))
ui.add_patch(Polygon([(66, 1266), (80, 1266), (67, 1296), (52, 1296)], fc='#e8e8e8', ec='none', zorder=4))

fig.savefig('out.png', dpi=100, facecolor='black')
